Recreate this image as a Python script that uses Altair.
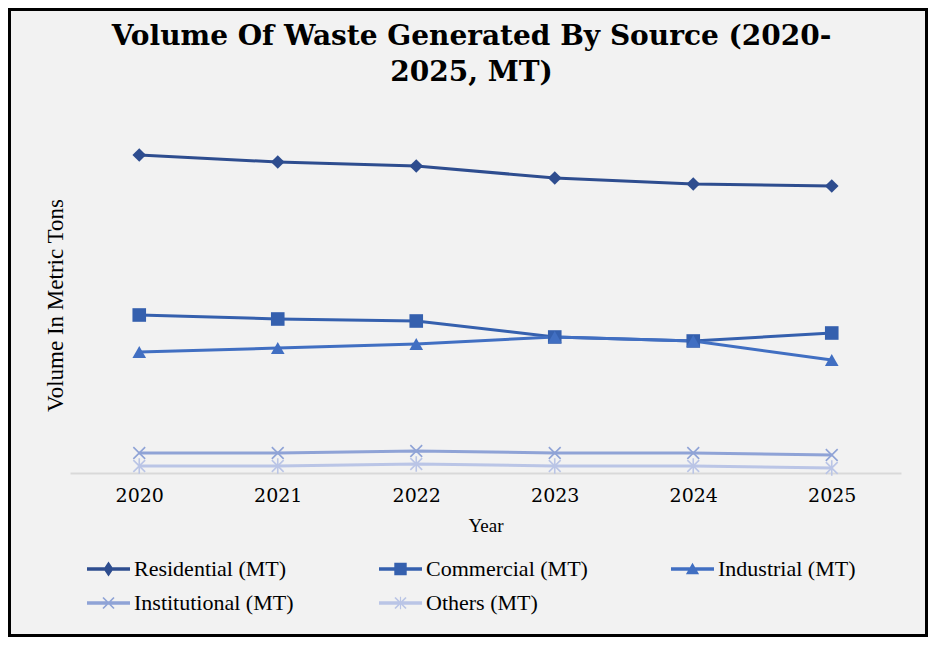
import altair as alt
import pandas as pd

years = ["2020", "2021", "2022", "2023", "2024", "2025"]
sources = ["Residential (MT)", "Commercial (MT)", "Industrial (MT)",
           "Institutional (MT)", "Others (MT)"]
residential = [318, 311, 307, 295, 289, 287]
commercial = [158, 154, 152, 136, 132, 140]
industrial = [121, 125, 129, 136, 132, 113]
institutional = [20, 20, 22, 20, 20, 18]
others = [7, 7, 9, 7, 7, 5]
colors = ["#2E4D8F", "#3560AE", "#416FC2", "#8FA3D6", "#BAC5E6"]

series = [residential, commercial, industrial, institutional, others]
rows = []
for s, vals in zip(sources, series):
    for y, v in zip(years, vals):
        rows.append({"Year": y, "Source": s, "Value": v})
df = pd.DataFrame(rows)

# marker paths
X_PATH = "M-1,-1L1,1M-1,1L1,-1"
AST_PATH = "M-1,-1L1,1M-1,1L1,-1M0,-1.3L0,1.3"
LINE = "M-2.15,-0.18H2.15V0.18H-2.15Z"
X_FILL = ("M-0.49,-0.61L0.61,0.49L0.49,0.61L-0.61,-0.49Z"
          "M0.61,-0.49L-0.49,0.61L-0.61,0.49L0.49,-0.61Z")
legend_paths = [
    LINE + "M0,-0.75L0.5,0L0,0.75L-0.5,0Z",
    LINE + "M-0.62,-0.62H0.62V0.62H-0.62Z",
    LINE + "M0,-0.62L0.66,0.52L-0.66,0.52Z",
    LINE + X_FILL,
    LINE + X_FILL + "M-0.06,-0.62H0.06V0.62H-0.06Z",
]

FONT = "Liberation Serif"

def cscale():
    return alt.Scale(domain=sources, range=colors)

x_enc = alt.X("Year:N", sort=years,
              scale=alt.Scale(type="point", padding=0.5),
              axis=alt.Axis(title="Year", labelAngle=0, labelFont="DejaVu Serif",
                            labelFontSize=19, labelColor="#000", labelPadding=13,
                            ticks=False, grid=False, domainColor="#d9d9d9",
                            domainWidth=2, titleFont=FONT, titleFontSize=19,
                            titleFontWeight="normal", titleColor="#000",
                            titlePadding=11))
y_enc = alt.Y("Value:Q", scale=alt.Scale(domain=[0, 365], nice=False, zero=True),
              axis=alt.Axis(title="Volume In Metric Tons", labels=False, ticks=False,
                            domain=False, grid=False, titleFont=FONT,
                            titleFontSize=23, titleFontWeight="normal",
                            titleColor="#000", titleX=-15, titleY=197,
                            titleAlign="center", titleBaseline="middle",
                            titleAngle=270))

base = alt.Chart(df).encode(x=x_enc, y=y_enc)

lines = base.mark_line(strokeWidth=3).encode(
    color=alt.Color("Source:N", scale=cscale(), legend=None))

filled_pts = base.transform_filter(
    alt.FieldOneOfPredicate(field="Source", oneOf=sources[:3])
).mark_point(filled=True, size=185, opacity=1).encode(
    color=alt.Color("Source:N", scale=cscale(), legend=None),
    shape=alt.Shape("Source:N", scale=alt.Scale(
        domain=sources, range=["diamond", "square", "triangle-up", X_PATH, AST_PATH]),
        legend=None))

stroke_pts = base.transform_filter(
    alt.FieldOneOfPredicate(field="Source", oneOf=sources[3:])
).mark_point(filled=False, size=140, strokeWidth=1.6, opacity=1).encode(
    color=alt.Color("Source:N", scale=cscale(), legend=None),
    shape=alt.Shape("Source:N", scale=alt.Scale(
        domain=sources, range=["diamond", "square", "triangle-up", X_PATH, AST_PATH]),
        legend=None))

leg = alt.Legend(title=None, orient="none", legendX=27.5, legendY=450,
                 direction="horizontal", columns=3, labelFont=FONT,
                 labelFontSize=22, labelColor="#000", symbolSize=400,
                 symbolStrokeWidth=0, symbolOpacity=1, labelOffset=14.5,
                 rowPadding=12, columnPadding=82, gridAlign="all", padding=0,
                 labelLimit=400)

legend_layer = base.mark_point(filled=True, size=400, opacity=0).encode(
    color=alt.Color("Source:N", scale=cscale(), legend=leg, sort=sources),
    shape=alt.Shape("Source:N", scale=alt.Scale(domain=sources, range=legend_paths),
                    legend=leg, sort=sources))

frame = alt.Chart(alt.Data(values=[{"k": 1}])).mark_rect(
    fill="transparent", stroke="#000", strokeWidth=3).encode(
    x=alt.value(-60.5), x2=alt.value(856.5), y=alt.value(-98.5), y2=alt.value(527.5))

chart = alt.layer(lines, filled_pts, stroke_pts, legend_layer, frame).resolve_scale(
    color="independent", shape="independent"
).properties(
    width=831, height=365,
    title=alt.Title(["Volume Of Waste Generated By Source (2020-", "2025, MT)"],
                    font="DejaVu Serif", fontSize=28, fontWeight="bold",
                    color="#000", anchor="middle", dx=-14, offset=-79,
                    lineHeight=36),
    autosize=alt.AutoSizeParams(type="none"),
    padding={"left": 62, "top": 100, "right": 27, "bottom": 164},
    background="#f2f2f2",
).configure_view(stroke=None)

chart.save("out.html", embed_options={"renderer": "svg", "actions": False})
